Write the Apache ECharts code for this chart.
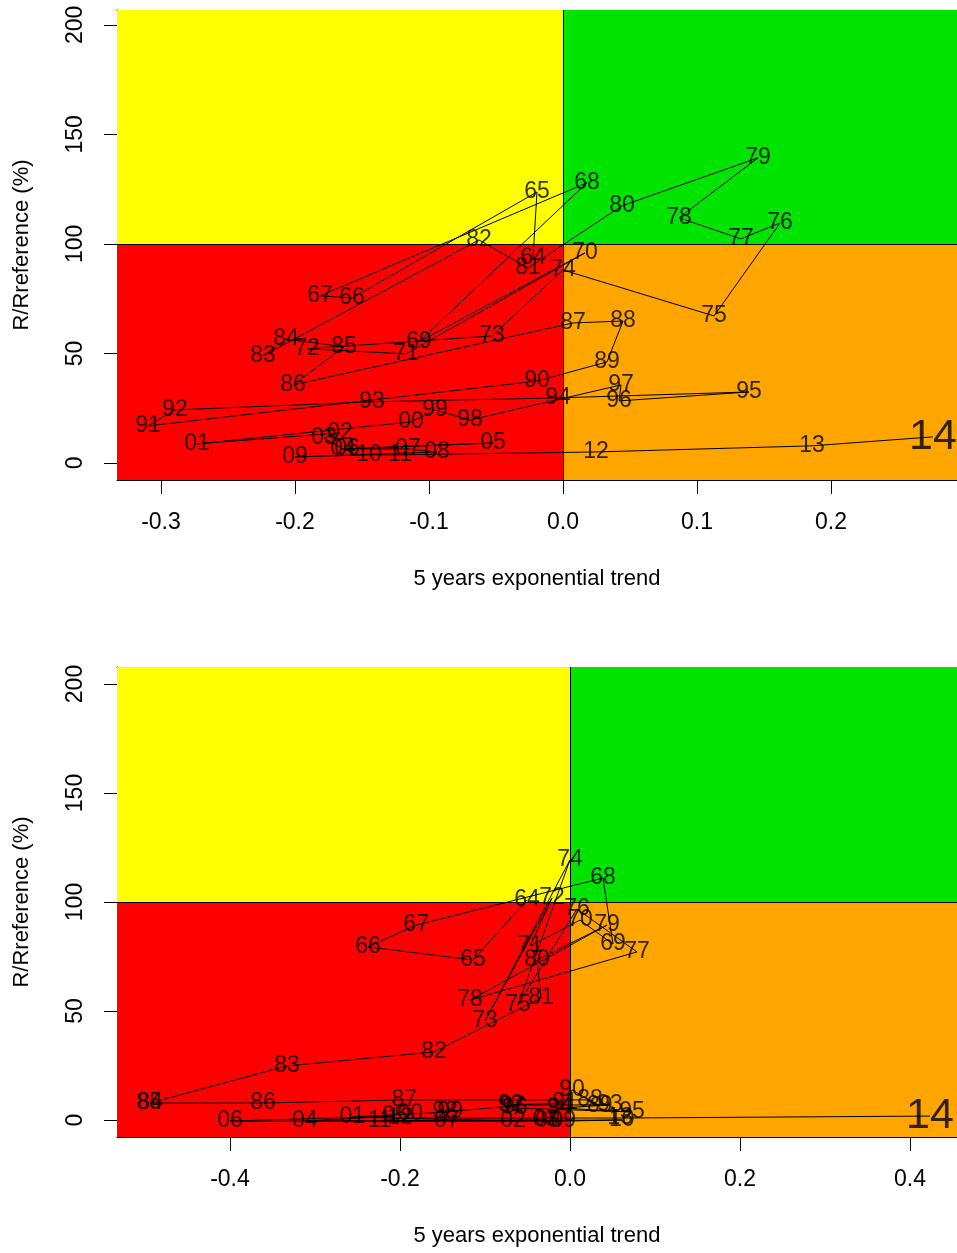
<!DOCTYPE html>
<html><head><meta charset="utf-8">
<script src="https://cdn.jsdelivr.net/npm/echarts@6/dist/echarts.min.js"></script>
<style>html,body{margin:0;padding:0;background:#fff}#c{width:957px;height:1253px}</style>
</head><body><div id="c"></div>
<script>
const years = ['64','65','66','67','68','69','70','71','72','73','74','75','76','77','78','79','80','81','82','83','84','85','86','87','88','89','90','91','92','93','94','95','96','97','98','99','00','01','02','03','04','05','06','07','08','09','10','11','12','13','14'];
// top panel
const trend1 = [-0.0224,-0.0194,-0.1575,-0.1813,0.0179,-0.1075,0.0164,-0.1172,-0.191,-0.053,0.0,0.1127,0.162,0.1328,0.0866,0.1455,0.044,-0.0261,-0.0627,-0.2239,-0.2067,-0.1634,-0.2015,0.0075,0.0448,0.0328,-0.0194,-0.3097,-0.2896,-0.1425,-0.0037,0.1388,0.0418,0.0433,-0.0694,-0.0955,-0.1134,-0.2731,-0.1664,-0.1784,-0.1642,-0.0522,-0.1612,-0.1157,-0.094,-0.2,-0.1448,-0.1216,0.0246,0.1858,0.276];
const ratio1 = [93.6,123.7,75.3,76.3,127.9,55.3,95.9,49.8,52.1,58.0,88.1,67.1,109.6,102.3,111.9,139.3,117.4,89.0,101.8,48.9,56.6,53.0,35.6,63.9,64.8,46.1,37.4,16.9,24.2,27.9,29.7,32.4,28.3,35.6,19.6,24.2,18.7,8.7,13.7,11.4,6.4,9.1,6.4,6.4,5.0,2.7,3.7,3.7,5.0,7.8,11.9];
// bottom panel
const trend2 = [-0.0506,-0.114,-0.2376,-0.181,0.0388,0.0506,0.0118,-0.047,-0.0212,-0.1,0.0,-0.0612,0.0082,0.0788,-0.1176,0.0435,-0.0388,-0.0341,-0.16,-0.333,-0.494,-0.495,-0.361,-0.195,0.0235,0.035,0.0024,-0.006,-0.07,0.047,-0.012,0.073,-0.065,-0.068,-0.147,-0.141,-0.188,-0.256,-0.067,-0.029,-0.312,-0.206,-0.4,-0.145,-0.026,-0.008,0.061,-0.224,-0.2,0.059,0.4235];
const ratio2 = [100.9,73.4,79.4,89.4,111.0,80.7,91.7,79.8,101.8,45.4,119.3,52.8,96.8,77.1,55.0,89.4,73.4,56.0,31.2,24.8,7.8,7.8,7.8,9.2,9.2,6.4,13.8,7.8,6.9,6.9,5.5,3.7,5.5,6.4,3.7,3.7,2.8,1.4,-0.5,0,-0.5,1.8,-0.5,-0.5,-0.5,-0.5,0,-0.5,0.9,0.9,1.8];
const xTicks1 = [-0.3,-0.2,-0.1,0,0.1,0.2];
const xTicks2 = [-0.4,-0.2,0,0.2,0.4];
const yTicks = [0,50,100,150,200];
const xTitle = '5 years exponential trend';
const yTitle = 'R/Rreference (%)';

const ranges = [
  {xmin:-0.3328, xmax:0.2940, ymin:-7.8, ymax:206.8},
  {xmin:-0.5329, xmax:0.4553, ymin:-7.8, ymax:207.8}
];
const FONT = 'Liberation Sans';
const C_Y='#FFFF00', C_G='#00E400', C_R='#FF0000', C_O='#FFA500';

function pts(xs, ys){ return xs.map((x,i)=>[x, ys[i], years[i]]); }
function labelData(xs, ys){
  return xs.map((x,i)=>{
    const d = {value:[x, ys[i], years[i]]};
    if (years[i]==='14') d.label = {fontSize:43};
    return d;
  });
}
function xAxes(gi, r, ticks){
  return [{
    type:'value', gridIndex:gi, min:r.xmin, max:r.xmax, position:'bottom',
    axisLine:{show:true, onZero:false, lineStyle:{color:'#000', width:1}},
    axisTick:{show:true, customValues:ticks, length:14, lineStyle:{color:'#000'}},
    axisLabel:{show:true, customValues:ticks, formatter:v=>v.toFixed(1), fontSize:23, fontFamily:FONT, color:'#000', margin:31},
    splitLine:{show:false},
    name:xTitle, nameLocation:'middle', nameGap:88,
    nameTextStyle:{fontSize:22, fontFamily:FONT, color:'#000'}
  },{
    type:'value', gridIndex:gi, min:r.xmin, max:r.xmax, position:'top',
    axisLine:{show:true, onZero:false, lineStyle:{color:'#000', width:1}},
    axisTick:{show:false}, axisLabel:{show:false}, splitLine:{show:false}
  }];
}
function yAxis(gi, r){
  return {
    type:'value', gridIndex:gi, min:r.ymin, max:r.ymax,
    axisLine:{show:true, onZero:false, lineStyle:{color:'#000', width:1}},
    axisTick:{show:true, customValues:yTicks, length:13, lineStyle:{color:'#000'}},
    axisLabel:{show:true, customValues:yTicks, rotate:90, fontSize:23, fontFamily:FONT, color:'#000', margin:30},
    splitLine:{show:false},
    name:yTitle, nameLocation:'middle', nameGap:84, nameRotate:90,
    nameTextStyle:{fontSize:22, fontFamily:FONT, color:'#000'}
  };
}
function panelSeries(xi, yi, r, xs, ys){
  return [{
    type:'line', xAxisIndex:xi, yAxisIndex:yi, data:pts(xs,ys),
    symbol:'none', smooth:false, clip:true, z:3,
    lineStyle:{color:'#000', width:1}, silent:true, animation:false,
    markArea:{silent:true, z:1, label:{show:false}, data:[
      [{coord:[r.xmin,100], itemStyle:{color:C_Y}}, {coord:[0,r.ymax]}],
      [{coord:[0,100], itemStyle:{color:C_G}}, {coord:[r.xmax,r.ymax]}],
      [{coord:[r.xmin,r.ymin], itemStyle:{color:C_R}}, {coord:[0,100]}],
      [{coord:[0,r.ymin], itemStyle:{color:C_O}}, {coord:[r.xmax,100]}]
    ]},
    markLine:{silent:true, symbol:'none', z:2, label:{show:false},
      lineStyle:{color:'#000', width:1, type:'solid'},
      data:[{yAxis:100},{xAxis:0}]}
  },{
    type:'scatter', xAxisIndex:xi, yAxisIndex:yi, data:labelData(xs,ys),
    symbolSize:1, itemStyle:{color:'rgba(0,0,0,0)'}, z:4, silent:true, animation:false,
    label:{show:true, position:'inside', formatter:p=>p.data.value[2], fontSize:23, fontFamily:FONT, color:'#000'}
  }];
}
const chart = echarts.init(document.getElementById('c'), null, {renderer:'canvas'});
chart.setOption({
  backgroundColor:'#fff', animation:false,
  grid:[
    {left:117, top:10, width:840, height:470, containLabel:false},
    {left:117, top:667, width:840, height:470, containLabel:false}
  ],
  xAxis:[...xAxes(0, ranges[0], xTicks1), ...xAxes(1, ranges[1], xTicks2)],
  yAxis:[yAxis(0, ranges[0]), yAxis(1, ranges[1])],
  series:[...panelSeries(0,0,ranges[0],trend1,ratio1), ...panelSeries(2,1,ranges[1],trend2,ratio2)]
});
</script></body></html>
